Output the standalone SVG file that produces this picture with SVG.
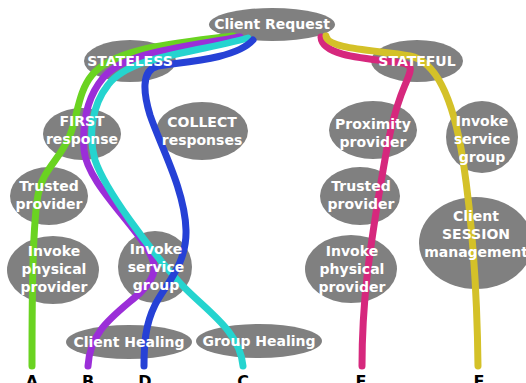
<svg xmlns="http://www.w3.org/2000/svg" width="526" height="383" viewBox="0 0 526 383">
<style>
.n{fill:#808080}
.t{font-family:"DejaVu Sans",sans-serif;font-weight:bold;font-size:14px;fill:#fff;text-anchor:middle}
.c{fill:none;stroke-width:7;stroke-linecap:round;stroke-linejoin:round}
.l{font-family:"DejaVu Sans",sans-serif;font-weight:bold;font-size:16px;fill:#000;text-anchor:middle}
</style>
<rect width="526" height="383" fill="#fff"/>
<g id="shapes">
<g id="n-client-request"><ellipse class="n" cx="272" cy="24.5" rx="63" ry="16.5"/></g>
<g id="n-stateless"><ellipse class="n" cx="130" cy="61" rx="46" ry="21"/></g>
<g id="n-stateful"><ellipse class="n" cx="417" cy="61" rx="46" ry="21"/></g>
<g id="n-first"><ellipse class="n" cx="82" cy="134" rx="39" ry="26"/></g>
<g id="n-collect"><ellipse class="n" cx="202" cy="131" rx="46" ry="29"/></g>
<g id="n-trusted-l"><ellipse class="n" cx="49" cy="196" rx="39" ry="29"/></g>
<g id="n-physical-l"><ellipse class="n" cx="53" cy="270" rx="46" ry="34"/></g>
<g id="n-group-l"><ellipse class="n" cx="155" cy="267" rx="37" ry="36"/></g>
<g id="n-client-healing"><ellipse class="n" cx="129" cy="342" rx="63" ry="17"/></g>
<g id="n-group-healing"><ellipse class="n" cx="259" cy="341" rx="63" ry="17"/></g>
<g id="n-proximity"><ellipse class="n" cx="373" cy="130" rx="44" ry="29"/></g>
<g id="n-group-r"><ellipse class="n" cx="482" cy="137" rx="36" ry="36"/></g>
<g id="n-trusted-r"><ellipse class="n" cx="360" cy="196" rx="40" ry="29"/></g>
<g id="n-physical-r"><ellipse class="n" cx="351" cy="269" rx="46" ry="34"/></g>
<g id="n-session"><ellipse class="n" cx="476" cy="243" rx="57" ry="46"/></g>
</g>
<g id="connectors">
<path id="A" class="c" stroke="#6ad321" d="M 233 36 C 170 44, 115 48, 92 75 C 78 92, 78 115, 70 135 C 60 160, 42 170, 38 195 C 33 225, 32 280, 32 366"/>
<path id="B" class="c" stroke="#9b2ed8" d="M 240 37 C 180 48, 125 52, 103 78 C 88 96, 82 120, 84 150 C 87 180, 125 215, 145 245 C 158 265, 158 275, 140 293 C 115 315, 90 330, 88 366"/>
<path id="C" class="c" stroke="#25d4cf" d="M 248 38 C 190 54, 130 56, 108 85 C 92 105, 88 135, 95 160 C 105 190, 150 250, 180 283 C 205 310, 240 330, 243 366"/>
<path id="D" class="c" stroke="#2641d6" d="M 253 40 C 235 60, 180 62, 158 66 C 140 70, 144 95, 150 115 C 160 145, 185 190, 186 230 C 187 265, 165 285, 155 305 C 145 325, 144 345, 144 366"/>
<path id="E" class="c" stroke="#d6287d" d="M 321 37 C 322 55, 360 58, 395 62 C 415 64, 412 68, 405 85 C 390 120, 385 160, 378 200 C 370 250, 362 300, 362 366"/>
<path id="F" class="c" stroke="#d4c128" d="M 326 36 C 328 50, 380 50, 410 56 C 440 62, 455 110, 463 160 C 472 220, 477 280, 478 366"/>
</g>
<g id="labels">
<text class="t" x="272" y="29">Client Request</text>
<text class="t" x="130" y="66">STATELESS</text>
<text class="t" x="417" y="66">STATEFUL</text>
<text class="t" x="82" y="126">FIRST<tspan x="82" dy="18">response</tspan></text>
<text class="t" x="202" y="127">COLLECT<tspan x="202" dy="18">responses</tspan></text>
<text class="t" x="49" y="191">Trusted<tspan x="49" dy="18">provider</tspan></text>
<text class="t" x="54" y="256">Invoke<tspan x="54" dy="18">physical</tspan><tspan x="54" dy="18">provider</tspan></text>
<text class="t" x="156" y="254">Invoke<tspan x="156" dy="18">service</tspan><tspan x="156" dy="18">group</tspan></text>
<text class="t" x="129" y="347">Client Healing</text>
<text class="t" x="259" y="346">Group Healing</text>
<text class="t" x="373" y="129">Proximity<tspan x="373" dy="18">provider</tspan></text>
<text class="t" x="482" y="126">Invoke<tspan x="482" dy="18">service</tspan><tspan x="482" dy="18">group</tspan></text>
<text class="t" x="361" y="191">Trusted<tspan x="361" dy="18">provider</tspan></text>
<text class="t" x="352" y="256">Invoke<tspan x="352" dy="18">physical</tspan><tspan x="352" dy="18">provider</tspan></text>
<text class="t" x="476" y="221">Client<tspan x="476" dy="18">SESSION</tspan><tspan x="476" dy="18">management</tspan></text>
<text class="l" x="32" y="387">A</text>
<text class="l" x="88" y="387">B</text>
<text class="l" x="145" y="387">D</text>
<text class="l" x="243" y="387">C</text>
<text class="l" x="361" y="387">E</text>
<text class="l" x="479" y="387">F</text>
</g>
</svg>
